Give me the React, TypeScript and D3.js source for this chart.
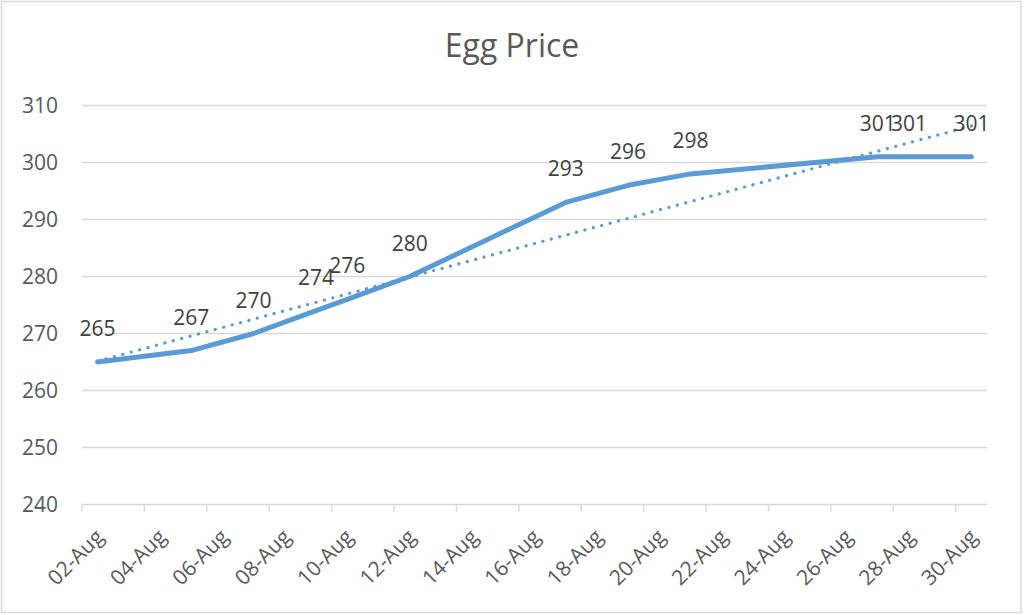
import React from "react";
import * as d3 from "d3";

const dates: string[] = ["02-Aug","05-Aug","07-Aug","09-Aug","10-Aug","12-Aug","17-Aug","19-Aug","21-Aug","27-Aug","28-Aug","30-Aug"];
const prices: number[] = [265,267,270,274,276,280,293,296,298,301,301,301];
const yTicks: number[] = [240,250,260,270,280,290,300,310];
const xTickLabels: string[] = ["02-Aug","04-Aug","06-Aug","08-Aug","10-Aug","12-Aug","14-Aug","16-Aug","18-Aug","20-Aug","22-Aug","24-Aug","26-Aug","28-Aug","30-Aug"];

const W = 1024, H = 615;
const FONT = "'Open Sans', 'Noto Sans', sans-serif";

function parseDay(s: string): number {
  return parseInt(s.slice(0, 2), 10);
}

export default function App() {
  const x = d3.scaleLinear().domain([2, 31]).range([82, 987]);
  const cx = (day: number) => x(day + 0.5);
  const y = d3.scaleLinear().domain([240, 310]).range([504.5, 105.5]);

  const pts = dates.map((d, i) => ({ day: parseDay(d), v: prices[i] }));

  // linear trendline (least squares)
  const mx = d3.mean(pts, p => p.day)!;
  const my = d3.mean(pts, p => p.v)!;
  const sxy = d3.sum(pts, p => (p.day - mx) * (p.v - my));
  const sxx = d3.sum(pts, p => (p.day - mx) ** 2);
  const slope = sxy / sxx;
  const icpt = my - slope * mx;
  const d0 = pts[0].day, d1 = pts[pts.length - 1].day;
  const trend = [
    { day: d0, v: icpt + slope * d0 },
    { day: d1, v: icpt + slope * d1 },
  ];

  const line = d3.line<{ day: number; v: number }>()
    .x(p => cx(p.day))
    .y(p => y(p.v));

  const tickDays = xTickLabels.map(parseDay);

  return (
    <div style={{ position: "fixed", left: 0, top: 0 }}>
      <svg width={W} height={H} style={{ display: "block", background: "#fff" }}>
        <rect x={1.5} y={1.5} width={1019.5} height={611} fill="#fff" stroke="#d9d9d9" strokeWidth={1.5} />
        <text x={512} y={57} textAnchor="middle" fontFamily={FONT} fontSize={32} fill="#595959">Egg Price</text>

        {yTicks.map(t => (
          <g key={t}>
            {t !== 240 && (
              <line x1={82} x2={987} y1={y(t)} y2={y(t)} stroke="#d9d9d9" strokeWidth={1.5} />
            )}
            <text x={58} y={y(t)} dy="0.35em" textAnchor="end" fontFamily={FONT} fontSize={21} fill="#595959">{t}</text>
          </g>
        ))}

        <line x1={82} x2={987} y1={y(240)} y2={y(240)} stroke="#d9d9d9" strokeWidth={1.5} />
        {tickDays.map(dd => (
          <line key={dd} x1={x(dd)} x2={x(dd)} y1={y(240)} y2={y(240) + 7} stroke="#d9d9d9" strokeWidth={1.5} />
        ))}
        {tickDays.map((dd, i) => {
          const tx = cx(dd) + 2;
          const ty = 533;
          return (
            <text key={dd} x={tx} y={ty} dy="0.35em" textAnchor="end" transform={`rotate(-45 ${tx} ${ty})`}
              fontFamily={FONT} fontSize={21} fill="#595959">{xTickLabels[i]}</text>
          );
        })}

        <path d={line(pts) || ""} fill="none" stroke="#5B9BD5" strokeWidth={5} strokeLinejoin="round" strokeLinecap="round" />
        <path d={line(trend) || ""} fill="none" stroke="#5B9BD5" strokeWidth={3.2} strokeLinecap="round" strokeDasharray="0.1 8.6" />

        {pts.map((p, i) => (
          <text key={i} x={cx(p.day)} y={y(p.v) - 26} textAnchor="middle" fontFamily={FONT} fontSize={21} fill="#404040">{p.v}</text>
        ))}
      </svg>
    </div>
  );
}
